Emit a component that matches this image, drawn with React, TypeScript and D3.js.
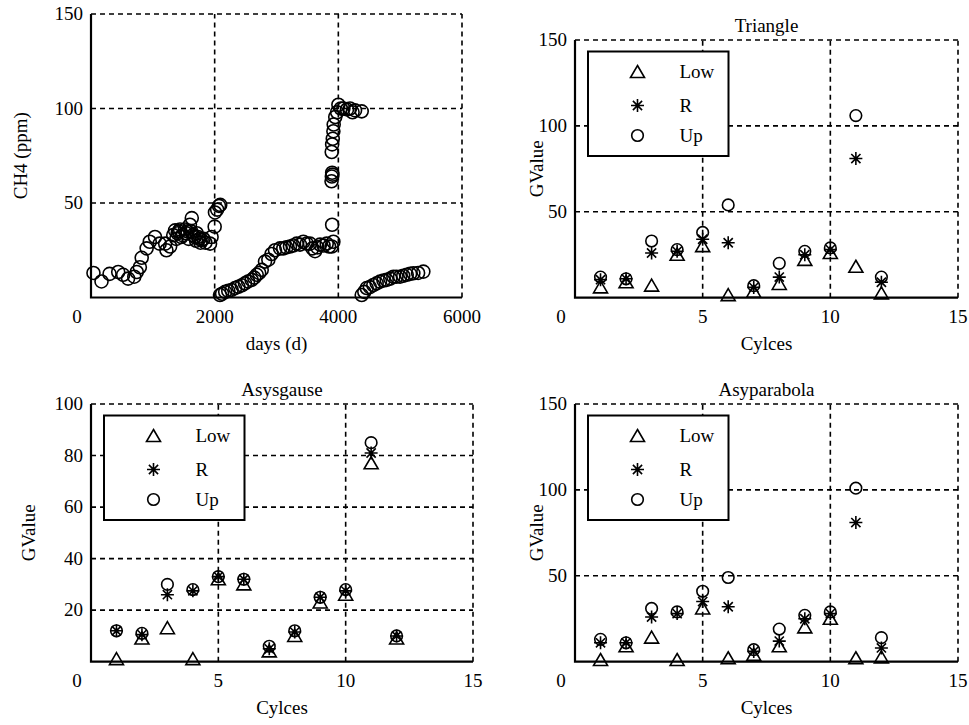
import React from "react";
import * as d3 from "d3";

// CH4 record: [day, ppm]
const ch4Days = [
  40, 170, 300, 440, 520, 600, 700, 740, 790, 820, 900, 950, 1035, 1110, 1200, 1220, 1280, 1330, 1360, 1400,
  1440, 1480, 1520, 1560, 1600, 1630, 1650, 1680, 1710, 1750, 1790, 1850, 1925, 1950, 2000, 2005, 2040, 2070,
  2090, 1380, 1420, 1460, 1540, 1580, 1620, 1700, 1730, 1770, 1820,
  2086, 2120, 2170, 2220, 2275, 2330, 2383, 2440, 2490, 2540, 2598, 2640, 2680, 2720, 2761, 2814, 2868, 2920,
  2976, 3057, 3110, 3160, 3218, 3270, 3327, 3380, 3434, 3490, 3542, 3580, 3623, 3660, 3704, 3760, 3812, 3850,
  3893, 3920, 3900,
  3890, 3895, 3900, 3905, 3893, 3900, 3910, 3920, 3925, 3950, 3980, 4001, 4040, 4082, 4140, 4189, 4230, 4270,
  4378,
  4378, 4420, 4459, 4510, 4566, 4620, 4674, 4730, 4782, 4840, 4890, 4940, 4998, 5050, 5106, 5160, 5213, 5290,
  5375,
];
const ch4Values = [
  13, 8.5, 12.5, 13.5, 12, 10, 11, 13.5, 16, 21, 26, 29.5, 32, 28.5, 28.5, 25, 27, 33, 35.5, 34,
  36, 33, 36, 35, 38.5, 42, 33, 32, 34, 31, 30.5, 29, 28.5, 32, 37.5, 45, 46.5, 48.5,
  49, 31, 35, 32, 34, 31, 35, 30, 32, 29, 31,
  1.3, 2, 3, 3.5, 4, 5, 5.7, 6.5, 7.5, 8.5, 9.3, 10.5, 12, 13, 14.6, 19, 20, 23,
  25, 26, 26, 26.5, 27, 27.5, 28.5, 28, 29.5, 28.5, 28.5, 26, 24.5, 26.5, 28, 27.5, 28.5, 27,
  27, 29.5, 38.5,
  61.5, 64, 66, 65, 77, 81, 84, 88, 91.5, 95.5, 98, 102, 100, 100, 99.5, 100, 98, 99,
  98.5,
  1.3, 3, 5, 5.5, 6.6, 7.5, 8.4, 9, 9.3, 10, 11, 11, 11, 11.5, 12, 12.5, 12.8, 13,
  13.7,
];

const cycles = [1, 2, 3, 4, 5, 6, 7, 8, 9, 10, 11, 12];

const triangleLow = [6, 9, 7, 25, 30, 1.5, 3.5, 8, 22, 26, 18, 2.5];
const triangleR = [10.5, 11, 26, 27, 34, 32, 6, 12, 25, 28, 81, 9];
const triangleUp = [12, 11, 33, 28, 38, 54, 7, 20, 27, 29, 106, 12];

const gauseLow = [1, 9, 13, 1, 32, 30, 4, 10, 23, 26, 77, 9];
const gauseR = [12, 10.5, 26, 27.5, 33, 32, 5, 11.5, 25, 27.5, 81, 10];
const gauseUp = [12, 11, 30, 28, 33, 32, 6, 12, 25, 28, 85, 10];

const parabolaLow = [1, 9, 14, 1, 31, 2, 4, 9, 20, 25, 2, 2.5];
const parabolaR = [11, 11, 26, 28, 35, 32, 6, 12, 25, 28, 81, 8];
const parabolaUp = [13, 11, 31, 29, 41, 49, 7, 19, 27, 29, 101, 14];

const cycleTicks = [5, 10, 15];
const legendNames = ["Low", "R", "Up"];

const FONT = "'Liberation Serif', 'Times New Roman', serif";
const FS = 19;
const SW = 1.6;

function Triangle({ x, y }) {
  return <path d="M0,-6.5 L7,5.5 L-7,5.5 Z" transform={`translate(${x},${y})`} fill="none" stroke="#000" strokeWidth={SW} />;
}

function Star({ x, y }) {
  const r = 6.5;
  const d = 4.6;
  return (
    <path
      d={`M0,${-r}V${r}M${-r},0H${r}M${-d},${-d}L${d},${d}M${-d},${d}L${d},${-d}`}
      transform={`translate(${x},${y})`}
      stroke="#000"
      strokeWidth={SW}
    />
  );
}

function Ring({ x, y, r = 5.8 }) {
  return <circle cx={x} cy={y} r={r} fill="none" stroke="#000" strokeWidth={SW} />;
}

function Frame({ x, y, xTicks, yTicks, title, xLabel, yLabel, yLabelX }) {
  const [x0, x1] = x.range();
  const [y0, y1] = y.range();
  return (
    <g fontFamily={FONT} fontSize={FS} fill="#000">
      {xTicks.map((t) => (
        <line key={"gx" + t} x1={x(t)} x2={x(t)} y1={y0} y2={y1} stroke="#000" strokeWidth={1.6} strokeDasharray="5,4" />
      ))}
      {yTicks.map((t) => (
        <line key={"gy" + t} x1={x0} x2={x1} y1={y(t)} y2={y(t)} stroke="#000" strokeWidth={1.6} strokeDasharray="5,4" />
      ))}
      <path d={`M${x0},${y1}V${y0}H${x1}`} fill="none" stroke="#000" strokeWidth={2.2} />
      {xTicks.map((t) => (
        <text key={"tx" + t} x={x(t)} y={y0 + 25} textAnchor="middle">
          {t}
        </text>
      ))}
      {yTicks.map((t) => (
        <text key={"ty" + t} x={x0 - 8} y={y(t) + 6} textAnchor="end">
          {t}
        </text>
      ))}
      <text x={x0 - 14} y={y0 + 25} textAnchor="middle">
        0
      </text>
      <text x={(x0 + x1) / 2} y={y0 + 52} textAnchor="middle">
        {xLabel}
      </text>
      <text transform={`translate(${yLabelX},${(y0 + y1) / 2}) rotate(-90)`} textAnchor="middle">
        {yLabel}
      </text>
      {title && (
        <text x={(x0 + x1) / 2} y={y1 - 8} textAnchor="middle">
          {title}
        </text>
      )}
    </g>
  );
}

function Legend({ left, top }) {
  const rows = [32, 65.5, 95.5];
  const mx = left + 62.5;
  return (
    <g fontFamily={FONT} fontSize={FS}>
      <rect x={left + 13} y={top + 11.5} width={140.5} height={104.5} fill="#fff" stroke="#000" strokeWidth={2} />
      <Triangle x={mx} y={top + rows[0]} />
      <Star x={mx} y={top + rows[1]} />
      <Ring x={mx} y={top + rows[2]} />
      {legendNames.map((n, i) => (
        <text key={n} x={left + 104.5} y={top + rows[i] + 6}>
          {n}
        </text>
      ))}
    </g>
  );
}

function CyclePanel({ box, yMax, yTicks, title, low, r, up, yLabelX }) {
  const x = d3.scaleLinear().domain([0, 15]).range([box.left, box.right]);
  const y = d3.scaleLinear().domain([0, yMax]).range([box.bottom, box.top]);
  return (
    <g>
      <Frame x={x} y={y} xTicks={cycleTicks} yTicks={yTicks} title={title} xLabel="Cylces" yLabel="GValue" yLabelX={yLabelX} />
      <Legend left={box.left} top={box.top} />
      {cycles.map((c, i) => (
        <Triangle key={"l" + c} x={x(c)} y={y(low[i])} />
      ))}
      {cycles.map((c, i) => (
        <Star key={"r" + c} x={x(c)} y={y(r[i])} />
      ))}
      {cycles.map((c, i) => (
        <Ring key={"u" + c} x={x(c)} y={y(up[i])} />
      ))}
    </g>
  );
}

export default function App() {
  const xDays = d3.scaleLinear().domain([0, 6000]).range([91, 462]);
  const yCh4 = d3.scaleLinear().domain([0, 150]).range([297.5, 14]);

  return (
    <svg width={969} height={725} style={{ position: "absolute", left: 0, top: 0, background: "#fff" }}>
      <Frame x={xDays} y={yCh4} xTicks={[2000, 4000, 6000]} yTicks={[50, 100, 150]} xLabel="days (d)" yLabel="CH4 (ppm)" yLabelX={27} />
      {ch4Days.map((d, i) => (
        <Ring key={"c" + i} x={xDays(d)} y={yCh4(ch4Values[i])} r={6.5} />
      ))}

      <CyclePanel
        box={{ left: 575, right: 958, top: 40, bottom: 297.7 }}
        yMax={150}
        yTicks={[50, 100, 150]}
        title="Triangle"
        low={triangleLow}
        r={triangleR}
        up={triangleUp}
        yLabelX={543}
      />
      <CyclePanel
        box={{ left: 91, right: 473, top: 404, bottom: 661.7 }}
        yMax={100}
        yTicks={[20, 40, 60, 80, 100]}
        title="Asysgause"
        low={gauseLow}
        r={gauseR}
        up={gauseUp}
        yLabelX={35}
      />
      <CyclePanel
        box={{ left: 575, right: 958, top: 404, bottom: 661.7 }}
        yMax={150}
        yTicks={[50, 100, 150]}
        title="Asyparabola"
        low={parabolaLow}
        r={parabolaR}
        up={parabolaUp}
        yLabelX={543}
      />
    </svg>
  );
}
